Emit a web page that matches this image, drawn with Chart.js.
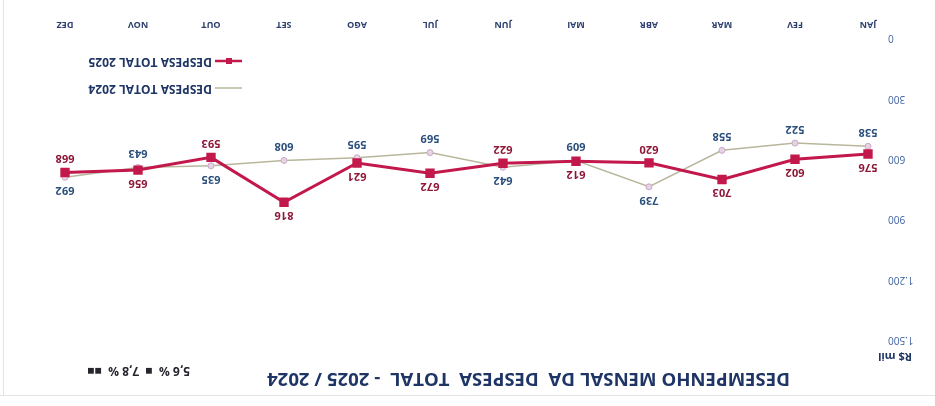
<!DOCTYPE html>
<html>
<head>
<meta charset="utf-8">
<script src="https://cdn.jsdelivr.net/npm/chart.js@4.4.1/dist/chart.umd.min.js"></script>
<style>
  html, body { margin: 0; padding: 0; background: #ffffff; }
  #wrap { width: 935px; height: 406px; transform: rotate(180deg); }
</style>
</head>
<body>
<div id="wrap"><canvas id="despesaChart" width="935" height="406"></canvas></div>
<script>
const meses = ['JAN', 'FEV', 'MAR', 'ABR', 'MAI', 'JUN', 'JUL', 'AGO', 'SET', 'OUT', 'NOV', 'DEZ'];
const despesa2025 = [576, 602, 703, 620, 612, 622, 672, 621, 816, 593, 656, 668];
const despesa2024 = [538, 522, 558, 739, 609, 642, 569, 595, 608, 635, 643, 692];
const yTicks = [0, 300, 600, 900, 1200, 1500];

const RED = '#c2184b';
const GRAY = '#b8b79c';
const NAVY = '#1f3566';

// valores sobre os pontos: o maior do mes fica em cima, o menor embaixo
const rotulos = {
  id: 'rotulos',
  afterDatasetsDraw(chart) {
    const ctx = chart.ctx;
    const cores = ['#8e1738', '#2b4f7c'];
    ctx.save();
    ctx.font = 'bold 11px "Open Sans"';
    ctx.textAlign = 'center';
    ctx.textBaseline = 'middle';
    chart.data.datasets.forEach((ds, i) => {
      const outro = chart.data.datasets[1 - i].data;
      chart.getDatasetMeta(i).data.forEach((pt, j) => {
        const acima = ds.data[j] >= outro[j];
        ctx.fillStyle = cores[i];
        ctx.fillText(ds.data[j], pt.x, acima ? pt.y - 13 : pt.y + 14);
      });
    });
    ctx.restore();
  }
};

// titulo, unidade, legenda e moldura
const textos = {
  id: 'textos',
  afterDraw(chart) {
    const ctx = chart.ctx;
    ctx.save();
    ctx.strokeStyle = '#e4e4e4';
    ctx.lineWidth = 1;
    ctx.beginPath();
    ctx.moveTo(0, 10.5); ctx.lineTo(935, 10.5);
    ctx.moveTo(931.5, 10); ctx.lineTo(931.5, 406);
    ctx.stroke();

    ctx.textBaseline = 'middle';
    ctx.fillStyle = NAVY;
    ctx.font = 'bold 18.6px "Open Sans"';
    ctx.fillText('DESEMPENHO MENSAL DA  DESPESA  TOTAL  - 2025 / 2024', 145, 28);

    ctx.font = 'bold 11px "Open Sans"';
    ctx.fillText('R$ mil', 23, 50);

    ctx.fillStyle = '#26262e';
    ctx.font = 'bold 12px "Open Sans"';
    ctx.fillText('5,6 %  \u25A0  7,8 %  \u25A0\u25A0', 745, 36);

    // legenda
    const itens = [
      { txt: 'DESPESA TOTAL 2024', cor: GRAY, y: 318, larg: 1.5, marca: false },
      { txt: 'DESPESA TOTAL 2025', cor: RED, y: 345, larg: 2.5, marca: true }
    ];
    itens.forEach(it => {
      ctx.strokeStyle = it.cor;
      ctx.lineWidth = it.larg;
      ctx.beginPath();
      ctx.moveTo(693, it.y); ctx.lineTo(720, it.y);
      ctx.stroke();
      if (it.marca) {
        ctx.fillStyle = it.cor;
        ctx.fillRect(703, it.y - 3, 6, 6);
      }
      ctx.fillStyle = NAVY;
      ctx.font = 'bold 12px "Open Sans"';
      ctx.fillText(it.txt, 723, it.y);
    });
    ctx.restore();
  }
};

new Chart(document.getElementById('despesaChart'), {
  type: 'line',
  data: {
    labels: meses,
    datasets: [
      {
        label: 'DESPESA TOTAL 2025',
        data: despesa2025,
        borderColor: RED,
        backgroundColor: RED,
        borderWidth: 3,
        pointStyle: 'rect',
        pointRadius: 4.5,
        pointBackgroundColor: RED,
        pointBorderColor: RED,
        tension: 0
      },
      {
        label: 'DESPESA TOTAL 2024',
        data: despesa2024,
        borderColor: GRAY,
        backgroundColor: GRAY,
        borderWidth: 1.5,
        pointStyle: 'circle',
        pointRadius: 3,
        pointBackgroundColor: '#e6d3e4',
        pointBorderColor: '#c9a9c6',
        pointBorderWidth: 1,
        tension: 0
      }
    ]
  },
  options: {
    responsive: false,
    animation: false,
    events: [],
    layout: { padding: { top: 66, right: 65, bottom: 0, left: 0 } },
    plugins: {
      legend: { display: false },
      tooltip: { enabled: false }
    },
    scales: {
      x: {
        offset: false,
        grid: { display: false },
        border: { display: false },
        ticks: {
          padding: 0,
          color: '#2c3f6e',
          font: { family: 'Open Sans', size: 9, weight: 'bold' }
        },
        afterFit(scale) { scale.height = 38; }
      },
      y: {
        min: 0,
        max: 1500,
        afterBuildTicks(scale) { scale.ticks = yTicks.map(v => ({ value: v })); },
        grid: { display: false },
        border: { display: false },
        ticks: {
          padding: 12,
          color: '#3b5f9c',
          font: { family: 'Open Sans', size: 10 },
          callback: v => v.toLocaleString('pt-BR')
        },
        afterFit(scale) { scale.width = 67; }
      }
    }
  },
  plugins: [rotulos, textos]
});
</script>
</body>
</html>
